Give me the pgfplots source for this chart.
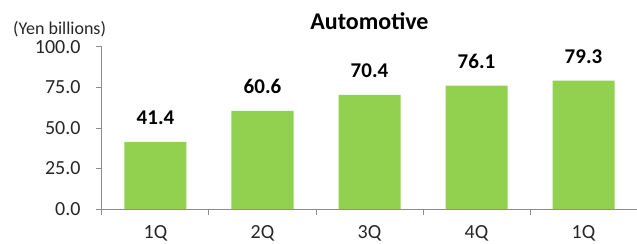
\documentclass[border=0pt]{standalone}
\usepackage{pgfplots}
\pgfplotsset{compat=1.18}
\usepackage{fontspec}
\setmainfont{Carlito}
\definecolor{barg}{HTML}{92D050}
\definecolor{axg}{HTML}{8C8C8C}
\begin{document}
\begin{tikzpicture}
\begin{axis}[
  scale only axis, width=535bp, height=162bp,
  xmin=-0.5, xmax=4.5, ymin=0, ymax=100,
  axis x line*=bottom, axis y line*=left,
  axis line style={axg, line width=1bp, -},
  /pgf/number format/assume math mode=true,
  tick align=outside,
  xtick={0,1,2,3,4}, xticklabels={1Q,2Q,3Q,4Q,1Q},
  minor xtick={-0.5,0.5,1.5,2.5,3.5,4.5},
  major x tick style={draw=none},
  minor tick length=6bp, major tick length=6bp,
  every tick/.style={axg, line width=1bp},
  minor tick style={axg, line width=1bp},
  x tick label style={font=\fontsize{20bp}{20bp}\selectfont, color=black!85, yshift=-7bp},
  ytick={0,25,50,75,100},
  yticklabel={\pgfmathprintnumber[fixed,fixed zerofill,precision=1]{\tick}},
  y tick label style={font=\fontsize{20bp}{20bp}\selectfont, color=black!85, xshift=-12bp},
  title={Automotive},
  title style={font=\bfseries\fontsize{24bp}{24bp}\selectfont, anchor=base, yshift=12bp},
  nodes near coords={\pgfmathprintnumber[fixed,fixed zerofill,precision=1]{\pgfplotspointmeta}},
  every node near coord/.append style={font=\bfseries\fontsize{21bp}{21bp}\selectfont, anchor=south, inner sep=0pt, yshift=17bp, color=black},
  clip=false,
]
\addplot[ybar, bar width=62bp, fill=barg, draw=none] coordinates {(0,41.4) (1,60.6) (2,70.4) (3,76.1) (4,79.3)};
\coordinate (ll) at (rel axis cs:0,0);
\coordinate (ur) at (rel axis cs:1,1);
\node[anchor=base west, inner sep=0pt, font=\fontsize{18bp}{18bp}\selectfont, color=black!85] at ([xshift=-89bp, yshift=12bp]rel axis cs:0,1) {(Yen billions)};
\end{axis}
\pgfresetboundingbox
\path[use as bounding box] ([xshift=-102bp,yshift=-35bp]ll) rectangle ([yshift=47bp]ur);
\end{tikzpicture}
\end{document}
